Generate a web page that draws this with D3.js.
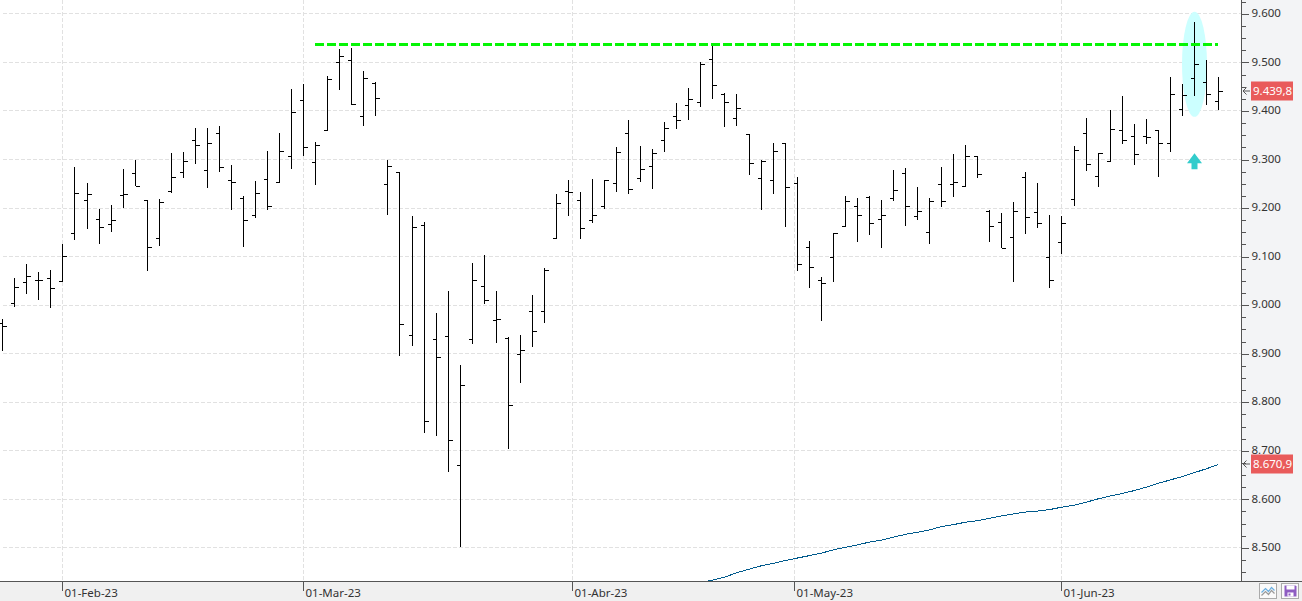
<!DOCTYPE html>
<html>
<head>
<meta charset="utf-8">
<script src="https://cdn.jsdelivr.net/npm/d3@7"></script>
<style>
html, body { margin:0; padding:0; background:#fff; overflow:hidden; }
text { font-family:"Noto Sans", sans-serif; font-size:11.5px; fill:#333; }
</style>
</head>
<body>
<div id="chart"></div>
<script>
// daily bars
var opens = [8962,9003,9046,9050,9054,9048,9147,9215,9176,9167,9225,9271,9215,9137,9235,9273,9339,9277,9353,9256,
  9219,9184,9258,9252,9306,9421,9293,9359,9499,9503,9388,9456,9248,9273,8937,9164,8929,8935,8669,8929,
  9038,8968,8931,8898,8986,8986,9137,9235,9215,9174,9203,9250,9353,9260,9285,9339,9388,9411,9417,9507,
  9435,9384,9351,9260,9256,9334,9250,9118,9050,9098,9163,9203,9221,9176,9219,9271,9182,9149,9248,9248,
  9244,9306,9192,9170,9139,9264,9190,9098,9130,9217,9353,9266,9295,9359,9347,9347,9359,9334,9404,9466,
  9458,9419]
var highs = [8970,9054,9083,9067,9071,9126,9283,9250,9198,9205,9279,9297,9215,9217,9312,9314,9363,9363,9369,9287,
  9223,9254,9316,9353,9444,9454,9336,9472,9526,9528,9481,9458,9297,9273,9182,9170,8982,9028,8875,9085,
  9102,9028,8933,8937,9019,9075,9227,9256,9233,9258,9256,9324,9380,9326,9320,9376,9415,9446,9499,9540,
  9437,9435,9351,9299,9334,9334,9264,9132,9056,9147,9223,9219,9223,9215,9277,9281,9242,9219,9283,9310,
  9328,9306,9194,9188,9211,9273,9250,9184,9182,9326,9384,9312,9402,9429,9372,9382,9359,9468,9454,9582,
  9503,9470]
var lows = [8904,8996,9023,9010,8994,9048,9133,9156,9126,9150,9200,9244,9070,9121,9231,9260,9290,9241,9274,9196,
  9119,9179,9194,9252,9280,9307,9247,9359,9442,9411,9369,9389,9185,8895,8915,8736,8730,8656,8501,8920,
  9001,8922,8703,8839,8912,8963,9137,9183,9136,9169,9198,9233,9227,9253,9239,9315,9361,9381,9408,9424,
  9367,9369,9268,9194,9227,9161,9070,9035,8967,9047,9159,9130,9144,9117,9214,9163,9175,9126,9202,9222,
  9244,9260,9130,9116,9047,9146,9157,9035,9105,9204,9276,9243,9295,9332,9288,9330,9262,9315,9389,9429,
  9412,9402]
var closes = [8957,9036,9060,9050,9034,9100,9231,9227,9159,9174,9227,9244,9118,9211,9264,9295,9328,9334,9283,9252,
  9174,9231,9203,9316,9396,9324,9328,9464,9512,9413,9466,9425,9285,8960,9159,8760,8892,8721,8834,9050,
  9009,8970,8793,8906,8945,9071,9209,9233,9157,9184,9256,9314,9238,9279,9312,9363,9380,9423,9496,9452,
  9417,9406,9291,9295,9316,9242,9083,9077,9044,9147,9213,9184,9168,9184,9236,9203,9192,9213,9213,9252,
  9306,9269,9163,9116,9192,9180,9168,9050,9168,9318,9289,9312,9361,9339,9310,9345,9334,9433,9431,9495,
  9433,9439.8]

// moving average, starts at bar 58 (first part is below the visible range)
var maStart = 58
var maValues = [8427,8433,8439,8448,8455,8462,8467,8473,8478,8483,8488,8495,8500,8505,8511,8515,8521,8527,8531,8536,8543,
  8547,8552,8555,8560,8565,8569,8573,8575,8578,8583,8587,8593,8600,8606,8611,8617,8624,8632,8639,8646,
  8654,8662,8670.9]

var yTicks = [8500,8600,8700,8800,8900,9000,9100,9200,9300,9400,9500,9600]
var yMinorTicks = [8450,8475,8525,8550,8575,8625,8650,8675,8725,8750,8775,8825,8850,8875,8925,8950,8975,9025,9050,9075,
  9125,9150,9175,9225,9250,9275,9325,9350,9375,9425,9450,9475,9525,9550,9575,9625]
var xTickBars = [5,25,47.3,65.75,88]
var xTickLabels = ["01-Feb-23","01-Mar-23","01-Abr-23","01-May-23","01-Jun-23"]
var lastLabels = [9439.8, 8670.9]

// green resistance line and the marked bar
var resistance = 9536
var resistanceFrom = 26
var resistanceTo = 101
var markedBar = 99
var markedMid = 9495
var arrowTip = 9312

var width = 1302
var height = 601
var plotRight = 1241.5
var plotBottom = 581.5

var svg = d3.select("#chart")
  .append("svg")
  .attr("width", width)
  .attr("height", height)
  .style("display", "block")

var x = d3.scaleLinear().domain([0, 101]).range([2.755, 1218.46])
var y = d3.scaleLinear().domain([8500, 9600]).range([547.4, 13.4])

// bars sit on whole pixels
function px(i){ return Math.floor(x(i)) + 0.5 }
function py(v){ return Math.round(y(v)) + 0.5 }

var fmt = d3.format(",")
function dotted(v){ return fmt(v).replace(",", ".") }

svg.append("clipPath").attr("id", "plotClip")
  .append("rect").attr("x", 0).attr("y", 0).attr("width", plotRight).attr("height", plotBottom)

// panels
svg.append("rect").attr("x", plotRight).attr("y", 0).attr("width", width - plotRight).attr("height", plotBottom).attr("fill", "#f3f4f6")
svg.append("rect").attr("x", 0).attr("y", plotBottom).attr("width", width).attr("height", height - plotBottom).attr("fill", "#f0f0f0")

// grid
var grid = svg.append("g").attr("shape-rendering", "crispEdges")
grid.selectAll(".hgrid")
  .data(yTicks)
  .enter()
  .append("line")
    .attr("class", "hgrid")
    .attr("x1", 3)
    .attr("x2", plotRight)
    .attr("y1", function(d){ return py(d) })
    .attr("y2", function(d){ return py(d) })
    .attr("stroke", "#e1e1e1")
    .attr("stroke-dasharray", "4,2")
grid.selectAll(".vgrid")
  .data(xTickBars)
  .enter()
  .append("line")
    .attr("class", "vgrid")
    .attr("x1", function(d){ return px(d) })
    .attr("x2", function(d){ return px(d) })
    .attr("y1", 0)
    .attr("y2", plotBottom)
    .attr("stroke", "#e1e1e1")
    .attr("stroke-dasharray", "4,2")

// marked bar: ellipse underneath
svg.append("ellipse")
  .attr("cx", px(markedBar))
  .attr("cy", y(markedMid))
  .attr("rx", 12.5)
  .attr("ry", 52.5)
  .attr("fill", "#ccffff")

// OHLC bars
var barIdx = d3.range(opens.length)
var bars = svg.append("g").attr("clip-path", "url(#plotClip)").attr("stroke", "#000").attr("shape-rendering", "crispEdges")
bars.selectAll(".hl")
  .data(barIdx)
  .enter()
  .append("line")
    .attr("class", "hl")
    .attr("x1", function(i){ return px(i) })
    .attr("x2", function(i){ return px(i) })
    .attr("y1", function(i){ return Math.round(y(highs[i])) })
    .attr("y2", function(i){ return Math.round(y(lows[i])) })
bars.selectAll(".op")
  .data(barIdx)
  .enter()
  .append("line")
    .attr("class", "op")
    .attr("x1", function(i){ return px(i) - 3.5 })
    .attr("x2", function(i){ return px(i) })
    .attr("y1", function(i){ return py(opens[i]) })
    .attr("y2", function(i){ return py(opens[i]) })
bars.selectAll(".cl")
  .data(barIdx)
  .enter()
  .append("line")
    .attr("class", "cl")
    .attr("x1", function(i){ return px(i) })
    .attr("x2", function(i){ return px(i) + 4 })
    .attr("y1", function(i){ return py(closes[i]) })
    .attr("y2", function(i){ return py(closes[i]) })

// moving average
var maLine = d3.line()
  .x(function(d, i){ return x(maStart + i) })
  .y(function(d){ return y(d) })
svg.append("path")
  .attr("clip-path", "url(#plotClip)")
  .attr("d", maLine(maValues))
  .attr("fill", "none")
  .attr("stroke", "#005a8c")
  .attr("stroke-width", 1)
  .attr("shape-rendering", "crispEdges")

// resistance
svg.append("line")
  .attr("x1", px(resistanceFrom) - 0.5)
  .attr("x2", px(resistanceTo) - 1)
  .attr("y1", y(resistance))
  .attr("y2", y(resistance))
  .attr("stroke", "#05f505")
  .attr("stroke-width", 3)
  .attr("stroke-dasharray", "9,3")
  .attr("shape-rendering", "crispEdges")

// arrow under the marked bar
svg.append("path")
  .attr("transform", "translate(" + px(markedBar) + "," + y(arrowTip) + ")")
  .attr("d", "M0,0 L7.5,10 L3,10 L3,16 L-3,16 L-3,10 L-7.5,10 Z")
  .attr("fill", "#33cccc")

// frame lines
svg.append("line").attr("x1", 0).attr("x2", width).attr("y1", plotBottom).attr("y2", plotBottom).attr("stroke", "#555").attr("shape-rendering", "crispEdges")
svg.append("line").attr("x1", plotRight).attr("x2", plotRight).attr("y1", 0).attr("y2", plotBottom).attr("stroke", "#555").attr("shape-rendering", "crispEdges")

// right axis
var yMinorAxis = d3.axisRight(y).tickValues(yMinorTicks).tickSize(4).tickFormat("")
var yAxis = d3.axisRight(y).tickValues(yTicks).tickSize(7).tickPadding(3).tickFormat(dotted)
svg.append("g").attr("class", "yminor").attr("transform", "translate(" + plotRight + ",0.5)").call(yMinorAxis)
svg.append("g").attr("class", "ymajor").attr("transform", "translate(" + plotRight + ",0.5)").call(yAxis)
svg.selectAll(".yminor .domain, .ymajor .domain").remove()
svg.selectAll(".yminor line, .ymajor line").attr("stroke", "#555").attr("shape-rendering", "crispEdges")
svg.selectAll(".ymajor text").attr("dy", "0.32em").attr("y", -1)

// bottom axis
var xAxis = d3.axisBottom(x)
  .tickValues(xTickBars)
  .tickSize(9)
  .tickPadding(0)
  .tickFormat(function(d, i){ return xTickLabels[i] })
var xg = svg.append("g").attr("class", "xaxis").attr("transform", "translate(0," + plotBottom + ")").call(xAxis)
xg.select(".domain").remove()
xg.selectAll(".tick").attr("transform", function(d){ return "translate(" + px(d) + ",0)" })
xg.selectAll(".tick line").attr("stroke", "#555").attr("shape-rendering", "crispEdges")
xg.selectAll(".tick text")
  .attr("text-anchor", "start")
  .attr("x", 2)
  .attr("y", 15)
  .attr("dy", null)
  .attr("dominant-baseline", "auto")

// last value tags
var tags = svg.selectAll(".tag")
  .data(lastLabels)
  .enter()
  .append("g")
    .attr("class", "tag")
    .attr("transform", function(d){ return "translate(1251," + Math.round(y(d)) + ")" })
tags.append("rect")
  .attr("x", 0)
  .attr("y", -9.5)
  .attr("width", 42)
  .attr("height", 19)
  .attr("fill", "#e95b5b")
tags.append("text")
  .attr("x", 2)
  .attr("y", 4)
  .style("fill", "#fff")
  .text(function(d){ return d3.format(",.1f")(d).replace(".", "#").replace(",", ".").replace("#", ",") })
tags.append("path")
  .attr("d", "M-8,0 L-1,0 M-8,0 L-4.5,-3.5 M-8,0 L-4.5,3.5")
  .attr("fill", "none")
  .attr("stroke", "#555")

// two small buttons bottom right
var btn1 = svg.append("g").attr("transform", "translate(1259.5,583.5)")
btn1.append("rect").attr("width", 17).attr("height", 15).attr("fill", "#fafafa").attr("stroke", "#aaa")
btn1.append("path").attr("d", "M2,9 L6,5 L9,8 L12,4 L15,7").attr("fill", "none").attr("stroke", "#6aaee0").attr("stroke-width", 1.2)
btn1.append("path").attr("d", "M2,12 L6,8 L9,11 L12,7 L15,10").attr("fill", "none").attr("stroke", "#9a9a9a").attr("stroke-width", 1.2)
var btn2 = svg.append("g").attr("transform", "translate(1281.5,583.5)")
btn2.append("rect").attr("width", 17).attr("height", 15).attr("fill", "#fafafa").attr("stroke", "#aaa")
btn2.append("path").attr("d", "M3,2 L14,2 L15,3 L15,13 L3,13 Z").attr("fill", "#8e5cc2")
btn2.append("rect").attr("x", 5).attr("y", 2).attr("width", 8).attr("height", 4).attr("fill", "#fff")
btn2.append("rect").attr("x", 6).attr("y", 9).attr("width", 6).attr("height", 4).attr("fill", "#fff")
btn2.append("rect").attr("x", 7).attr("y", 10).attr("width", 2).attr("height", 2).attr("fill", "#8e5cc2")
</script>
</body>
</html>
